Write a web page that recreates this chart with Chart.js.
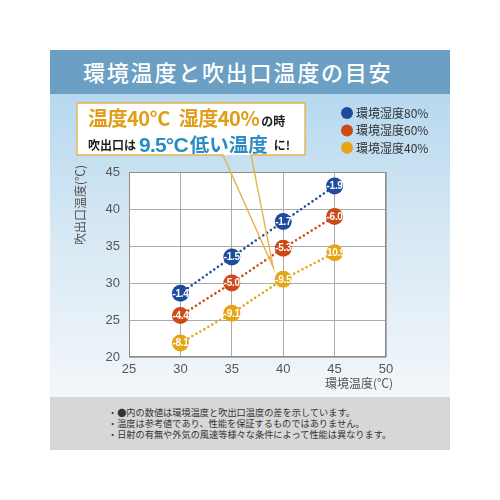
<!DOCTYPE html>
<html lang="ja">
<head>
<meta charset="utf-8">
<script src="https://cdn.jsdelivr.net/npm/chart.js@4.4.1/dist/chart.umd.min.js"></script>
<style>
  html, body { margin: 0; padding: 0; background: #fff; }
  body { width: 500px; height: 500px; position: relative; overflow: hidden; font-family: "Noto Sans CJK JP", sans-serif; }
  #panel { position: absolute; left: 50px; top: 50px; width: 400px; height: 400px; }
  #head { height: 44px; background: #6b9fc3; color: #fff; font-size: 22px; font-weight: 500; letter-spacing: 1.8px; line-height: 42px; padding-left: 33px; box-sizing: border-box; }
  #main { position: relative; height: 303px; background: linear-gradient(to bottom, #b6d8ef 0%, #d7e8f4 45%, #f3f7fa 100%); }
  #foot { height: 53px; background: #d7d7d7; color: #333; font-size: 9.2px; line-height: 11.2px; padding: 9.5px 0 0 58px; box-sizing: border-box; }
</style>
</head>
<body>
<div id="panel">
  <div id="head">環境温度と吹出口温度の目安</div>
  <div id="main"><canvas id="outletChart"></canvas></div>
  <div id="foot">
    <div>・●内の数値は環境温度と吹出口温度の差を示しています。</div>
    <div>・温度は参考値であり、性能を保証するものではありません。</div>
    <div>・日射の有無や外気の風速等様々な条件によって性能は異なります。</div>
  </div>
</div>
<script>
// 環境温度 (x) and 吹出口温度 (y) for each humidity
const temps = [30, 35, 40, 45];
const outlet80 = [28.6, 33.5, 38.3, 43.1];
const outlet60 = [25.6, 30.0, 34.7, 39.0];
const outlet40 = [21.9, 25.9, 30.5, 34.1];
const diff80 = ['-1.4', '-1.5', '-1.7', '-1.9'];
const diff60 = ['-4.4', '-5.0', '-5.3', '-6.0'];
const diff40 = ['-8.1', '-9.1', '-9.5', '-10.9'];
const seriesNames = ['環境湿度80%', '環境湿度60%', '環境湿度40%'];
const seriesColors = ['#1f4b9c', '#cc4a16', '#e6a514'];
const xTicks = [25, 30, 35, 40, 45, 50];
const yTicks = [20, 25, 30, 35, 40, 45];

const JP = '"Noto Sans CJK JP", sans-serif';

function toPoints(ys) {
    return temps.map((t, i) => ({ x: t, y: ys[i] }));
}

const allDiffs = [diff80, diff60, diff40];

const overlayPlugin = {
    id: 'overlay',
    beforeDraw(chart) {
        const { ctx, chartArea: a } = chart;
        ctx.save();
        ctx.fillStyle = '#fff';
        ctx.fillRect(a.left, a.top, a.right - a.left, a.bottom - a.top);
        ctx.restore();
    },
    beforeDatasetsDraw(chart) {
        const { ctx, chartArea: a } = chart;
        ctx.save();
        ctx.strokeStyle = '#8c8c8c';
        ctx.lineWidth = 1;
        ctx.strokeRect(Math.round(a.left) + 0.5, Math.round(a.top) + 0.5, Math.round(a.right - a.left) - 1, Math.round(a.bottom - a.top) - 1);
        ctx.restore();
    },
    afterDatasetsDraw(chart) {
        const ctx = chart.ctx;
        ctx.save();
        ctx.fillStyle = '#fff';
        ctx.font = 'bold 10px "Liberation Sans Narrow", "Liberation Sans", sans-serif';
        ctx.textAlign = 'center';
        ctx.textBaseline = 'middle';
        ctx.letterSpacing = '-0.3px';
        chart.data.datasets.forEach((ds, di) => {
            chart.getDatasetMeta(di).data.forEach((pt, i) => {
                ctx.fillText(allDiffs[di][i], pt.x, pt.y + 0.5);
            });
        });
        ctx.restore();
    },
    afterDraw(chart) {
        const ctx = chart.ctx;
        const xs = chart.scales.x, ys = chart.scales.y;
        ctx.save();

        // axis titles
        ctx.fillStyle = '#555';
        ctx.font = '12px ' + JP;
        ctx.textBaseline = 'middle';
        ctx.textAlign = 'left';
        ctx.fillText('環境温度(℃)', 275, 289);
        ctx.save();
        ctx.translate(30, 151);
        ctx.rotate(-Math.PI / 2);
        ctx.fillText('吹出口温度(℃)', 0, 0);
        ctx.restore();

        // legend
        seriesNames.forEach((name, i) => {
            const cy = 19 + i * 17.4;
            ctx.beginPath();
            ctx.arc(297, cy, 6, 0, Math.PI * 2);
            ctx.fillStyle = seriesColors[i];
            ctx.fill();
            ctx.fillStyle = '#333';
            ctx.font = '12px ' + JP;
            ctx.fillText(name, 306, cy + 0.5);
        });

        // callout pointing at 40℃ / 40%
        const tipX = xs.getPixelForValue(40) - 10;
        const tipY = ys.getPixelForValue(outlet40[2]) - 12;
        ctx.fillStyle = '#fff';
        ctx.fillRect(27, 9, 228, 52);
        ctx.beginPath();
        ctx.moveTo(173, 61);
        ctx.lineTo(27, 61);
        ctx.lineTo(27, 9);
        ctx.lineTo(255, 9);
        ctx.lineTo(255, 61);
        ctx.lineTo(201, 61);
        ctx.lineTo(tipX, tipY);
        ctx.closePath();
        ctx.strokeStyle = '#e5b44a';
        ctx.lineWidth = 1.4;
        ctx.stroke();

        ctx.textBaseline = 'alphabetic';
        let x = 38;
        const run = (txt, font, color, y, gap, ls) => {
            ctx.font = font;
            ctx.fillStyle = color;
            ctx.letterSpacing = ls || '0px';
            ctx.fillText(txt, x, y);
            x += ctx.measureText(txt).width + (gap || 0);
        };
        const gold = '#e29c18', blue = '#2a8cc6', ink = '#1d1d1d';
        run('温度40°C', 'bold 20px ' + JP, gold, 32, 9, '-0.5px');
        run('湿度40%', 'bold 20px ' + JP, gold, 32, 2, '-0.5px');
        run('の時', 'bold 12px ' + JP, ink, 32);
        x = 38;
        run('吹出口は', 'bold 12px ' + JP, ink, 56, 3);
        run('9.5°C', 'bold 21px "Liberation Sans", sans-serif', blue, 58, 2, '-0.8px');
        run('低い温度', 'bold 19.5px ' + JP, blue, 58, 6);
        run('に!', 'bold 12px ' + JP, ink, 56);

        ctx.restore();
    }
};

function makeSet(label, ys, color) {
    return {
        label: label,
        data: toPoints(ys),
        borderColor: color,
        backgroundColor: color,
        pointBackgroundColor: color,
        pointBorderWidth: 0,
        pointRadius: 8.5,
        pointHoverRadius: 8.5,
        borderWidth: 2.6,
        borderDash: [0, 4.6],
        borderCapStyle: 'round',
        showLine: true,
        fill: false
    };
}

const tickFont = { family: '"Liberation Sans", Arial, sans-serif', size: 13 };

new Chart(document.getElementById('outletChart').getContext('2d'), {
    type: 'scatter',
    data: {
        datasets: [
            makeSet(seriesNames[0], outlet80, seriesColors[0]),
            makeSet(seriesNames[1], outlet60, seriesColors[1]),
            makeSet(seriesNames[2], outlet40, seriesColors[2])
        ]
    },
    options: {
        responsive: true,
        maintainAspectRatio: false,
        animation: false,
        layout: { padding: { left: 49, right: 64, top: 78, bottom: 18 } },
        plugins: {
            legend: { display: false },
            tooltip: { enabled: false }
        },
        scales: {
            x: {
                type: 'linear',
                min: xTicks[0],
                max: xTicks[xTicks.length - 1],
                afterBuildTicks(scale) { scale.ticks = xTicks.map(v => ({ value: v })); },
                afterFit(scale) { scale.height = 22; },
                ticks: { font: tickFont, color: '#555', padding: 5, maxRotation: 0 },
                grid: { color: '#ababab', lineWidth: 1, drawTicks: false },
                border: { display: false }
            },
            y: {
                min: yTicks[0],
                max: yTicks[yTicks.length - 1],
                afterBuildTicks(scale) { scale.ticks = yTicks.map(v => ({ value: v })); },
                afterFit(scale) { scale.width = 30; },
                ticks: { font: tickFont, color: '#555', padding: 9 },
                grid: { color: '#ababab', lineWidth: 1, drawTicks: false },
                border: { display: false }
            }
        }
    },
    plugins: [overlayPlugin]
});
</script>
</body>
</html>
